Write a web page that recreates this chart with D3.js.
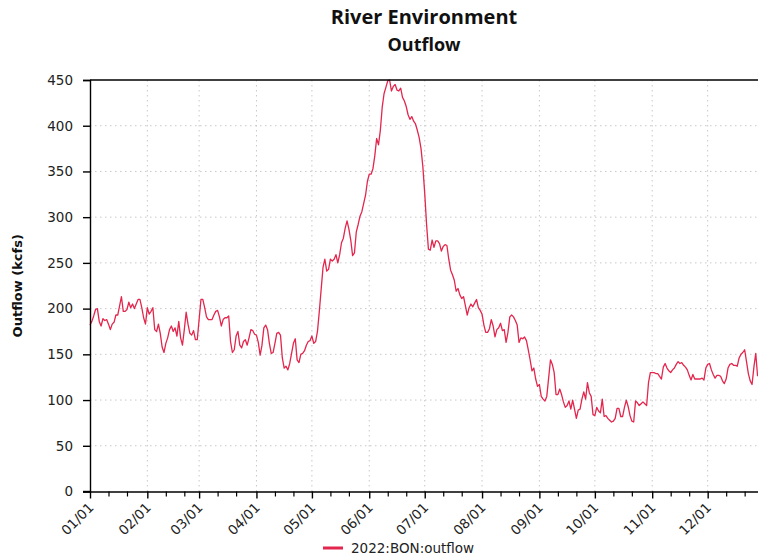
<!DOCTYPE html>
<html>
<head>
<meta charset="utf-8">
<script src="https://cdn.jsdelivr.net/npm/d3@7"></script>
<style>
  html, body { margin: 0; padding: 0; background: #fff; overflow: hidden; }
  svg { display: block; }
</style>
</head>
<body>
<svg id="chart" width="758" height="559"></svg>
<script>
// Chart text
const chartTitle = "River Environment";
const chartSubtitle = "Outflow";
const yAxisTitle = "Outflow (kcfs)";
const seriesName = "2022:BON:outflow";

// Time span of the x axis (UTC dates)
const firstDay = "2022-01-01";
const domainEnd = "2023-01-01";

// Y axis tick values (kcfs)
const yTickValues = [0, 50, 100, 150, 200, 250, 300, 350, 400, 450];

// Daily outflow (kcfs), one value per day starting at firstDay
const outflow = [
  182, 186, 192, 199, 200, 186, 181, 189, 187, 188,
  183, 177, 183, 185, 193, 193, 203, 213, 197, 197,
  199, 207, 201, 205, 200, 205, 210, 210, 201, 190,
  183, 201, 194, 197, 201, 177, 175, 183, 173, 158,
  152, 162, 168, 177, 181, 175, 179, 170, 186, 168,
  160, 177, 196, 183, 173, 171, 176, 166, 166, 188,
  210, 210, 201, 191, 188, 188, 188, 193, 197, 198,
  191, 181, 188, 190, 190, 192, 164, 152, 155, 170,
  175, 160, 157, 164, 166, 160, 168, 177, 176, 172,
  171, 163, 149, 160, 179, 182, 177, 162, 151, 152,
  162, 173, 174, 171, 146, 135, 137, 133, 140, 151,
  162, 167, 144, 141, 150, 151, 154, 160, 164, 165,
  170, 162, 164, 175, 197, 221, 245, 254, 241, 243,
  254, 252, 254, 259, 250, 259, 272, 277, 288, 296,
  287, 275, 258, 261, 284, 292, 301, 306, 315, 324,
  339, 347, 347, 353, 367, 386, 379, 395, 420, 435,
  442, 449, 450, 438, 443, 445, 439, 438, 441, 431,
  427, 421, 412, 407, 410, 405, 402, 395, 387, 375,
  355, 326, 292, 265, 264, 275, 267, 274, 274, 271,
  263, 268, 270, 269, 254, 242, 237, 231, 219, 222,
  215, 211, 213, 203, 193, 201, 205, 202, 206, 210,
  201, 198, 194, 182, 174, 174, 178, 188, 181, 169,
  177, 179, 184, 176, 177, 163, 174, 191, 193, 191,
  187, 182, 163, 168, 167, 169, 165, 155, 144, 132,
  135, 123, 115, 117, 104, 101, 99, 104, 124, 144,
  139, 130, 106, 106, 112, 106, 98, 92, 94, 99,
  90, 100, 90, 80, 89, 90, 101, 109, 101, 119,
  108, 104, 84, 83, 92, 88, 86, 101, 82, 83,
  80, 78, 76, 77, 80, 91, 91, 82, 82, 92,
  100, 93, 83, 77, 76, 99, 97, 94, 96, 98,
  96, 94, 119, 130, 130, 130, 129, 129, 126, 123,
  136, 140, 135, 132, 130, 133, 135, 139, 142, 140,
  141, 138, 136, 133, 127, 122, 128, 123, 123, 123,
  123, 124, 122, 135, 139, 140, 133, 128, 124, 127,
  127, 126, 121, 118, 123, 135, 139, 140, 138, 138,
  137, 146, 150, 152, 155, 142, 129, 121, 117, 136,
  151, 126
];

// Layout
const width = 758, height = 559;
const plot = { left: 90, right: 765, top: 80, bottom: 491.5 };
const lineColor = "#e3264d";
const textColor = "#222";

const parseDay = d3.utcParse("%Y-%m-%d");
const start = parseDay(firstDay);
const end = parseDay(domainEnd);
const rows = outflow.map((v, i) => ({ date: d3.utcDay.offset(start, i), value: v }));

const x = d3.scaleUtc().domain([start, end]).range([plot.left, plot.right]);
const y = d3.scaleLinear().domain([0, 450]).range([plot.bottom, plot.top]);

const svg = d3.select("#chart");

// Dotted grid
const grid = svg.append("g").attr("stroke", "#c8c8c8").attr("stroke-width", 1)
  .attr("stroke-dasharray", "1.5,3.5");
const monthTicks = x.ticks(d3.utcMonth.every(1)).filter(d => d < end);
grid.selectAll("line.v").data(monthTicks.slice(1)).join("line")
  .attr("x1", d => x(d)).attr("x2", d => x(d))
  .attr("y1", plot.top).attr("y2", plot.bottom);
grid.selectAll("line.h").data(yTickValues.slice(1, -1)).join("line")
  .attr("x1", plot.left).attr("x2", plot.right)
  .attr("y1", d => y(d)).attr("y2", d => y(d));

// Outflow line
const line = d3.line().x(d => x(d.date)).y(d => y(d.value));
svg.append("path").datum(rows)
  .attr("fill", "none")
  .attr("stroke", lineColor)
  .attr("stroke-width", 1.3)
  .attr("stroke-linejoin", "round")
  .attr("d", line);

// Top frame line
svg.append("line")
  .attr("x1", plot.left).attr("x2", plot.right)
  .attr("y1", plot.top).attr("y2", plot.top)
  .attr("stroke", "#000").attr("stroke-width", 1.4);

// Y axis
const yAxis = svg.append("g")
  .attr("transform", `translate(${plot.left},0)`)
  .call(d3.axisLeft(y).tickValues(yTickValues).tickSize(7).tickPadding(10));
yAxis.select(".domain").attr("stroke", "#000").attr("stroke-width", 1.4);
yAxis.selectAll(".tick line").attr("stroke", "#000").attr("stroke-width", 1.4);
yAxis.selectAll(".tick text")
  .attr("fill", textColor)
  .style("font-family", "'DejaVu Sans', sans-serif")
  .style("font-size", "13.5px");

// X axis: minor ticks on the 11th and 21st of each month
const minorTicks = d3.utcDay.range(start, end)
  .filter(d => d.getUTCDate() === 11 || d.getUTCDate() === 21);
svg.append("g")
  .attr("transform", `translate(0,${plot.bottom})`)
  .call(d3.axisBottom(x).tickValues(minorTicks).tickSize(5).tickFormat(""))
  .call(g => g.select(".domain").remove())
  .selectAll(".tick line").attr("stroke", "#000").attr("stroke-width", 1.2);

const xAxis = svg.append("g")
  .attr("transform", `translate(0,${plot.bottom})`)
  .call(d3.axisBottom(x).tickValues(monthTicks).tickSize(7)
    .tickSizeOuter(0).tickFormat(d3.utcFormat("%m/%d")));
xAxis.select(".domain").attr("stroke", "#000").attr("stroke-width", 1.4);
xAxis.selectAll(".tick line").attr("stroke", "#000").attr("stroke-width", 1.4);
xAxis.selectAll(".tick text")
  .attr("fill", textColor)
  .attr("text-anchor", "end")
  .attr("dy", null)
  .attr("y", null)
  .attr("transform", "translate(4,17) rotate(-45)")
  .style("font-family", "'DejaVu Sans', sans-serif")
  .style("font-size", "13.5px");
// extend baseline left to meet the y axis zero tick
svg.append("line")
  .attr("x1", plot.left - 7).attr("x2", plot.left)
  .attr("y1", plot.bottom).attr("y2", plot.bottom)
  .attr("stroke", "#000").attr("stroke-width", 1.4);

// Titles
const centerX = (plot.left + width) / 2;
svg.append("text")
  .attr("x", centerX).attr("y", 24)
  .attr("text-anchor", "middle")
  .style("font-family", "'Open Sans', sans-serif")
  .style("font-weight", "700")
  .style("font-size", "20px")
  .attr("fill", "#111")
  .text(chartTitle);
svg.append("text")
  .attr("x", centerX).attr("y", 51)
  .attr("text-anchor", "middle")
  .style("font-family", "'Open Sans', sans-serif")
  .style("font-weight", "700")
  .style("font-size", "18px")
  .attr("fill", "#111")
  .text(chartSubtitle);

svg.append("text")
  .attr("transform", `translate(22,${(plot.top + plot.bottom) / 2}) rotate(-90)`)
  .attr("text-anchor", "middle")
  .style("font-family", "'DejaVu Sans', sans-serif")
  .style("font-weight", "700")
  .style("font-size", "13px")
  .attr("fill", "#111")
  .text(yAxisTitle);

// Legend
const legend = svg.append("g").attr("transform", "translate(323,548)");
legend.append("line")
  .attr("x1", 0).attr("x2", 20).attr("y1", 0).attr("y2", 0)
  .attr("stroke", lineColor).attr("stroke-width", 3);
legend.append("text")
  .attr("x", 28).attr("y", 5)
  .attr("fill", textColor)
  .style("font-family", "'DejaVu Sans', sans-serif")
  .style("font-size", "13.5px")
  .text(seriesName);
</script>
</body>
</html>
